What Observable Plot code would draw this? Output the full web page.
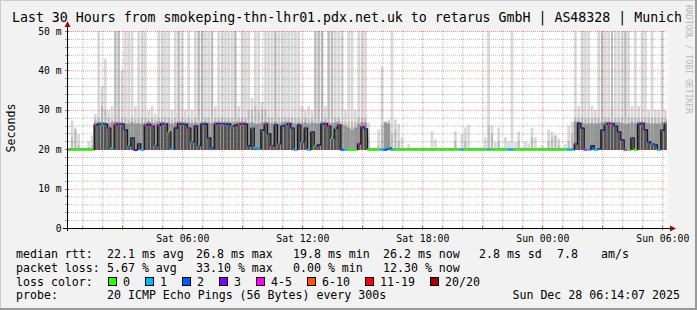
<!DOCTYPE html>
<html><head><meta charset="utf-8">
<script src="https://cdn.jsdelivr.net/npm/d3@7"></script>
<script src="https://cdn.jsdelivr.net/npm/@observablehq/plot@0.6"></script>
<style>
html,body{margin:0;padding:0;background:#f2f2f2;}
#chart{width:697px;height:310px;overflow:hidden;}
svg{display:block}
</style></head><body><div id="chart"></div>
<script>
// ---- data (10-minute bins, Sat 27 Dec 2025 00:14:07 -> Sun 28 Dec 06:14:07) ----
const startMs = Date.UTC(2025, 11, 27, 0, 14, 7);
const endMs = Date.UTC(2025, 11, 28, 6, 14, 7);
const binMinutes = 10;
const lowestPingMs = 19.8;

const medianMs = [
 20,20,20,20,20,20,20,20,26.3,26.5,26.6,26.5,25.5,20.4,26.4,26.5,26.5,25,21,23,19.9,21.5,20,26.2,26.4,26,21,26.2,26.6,26.5,
 24.5,20.2,25.5,26.6,26.5,26.4,25.5,22,26,21,26.5,26.5,23,20.5,26.6,26.6,26.6,26.5,26.5,26,26.2,26.5,26.6,26.5,21,25.5,20.5,20.3,25,26.5,
 24,21,26.3,21.5,26,26.4,26.6,25.5,20,26.2,22,25.5,20,24.5,21,21.2,26.5,26.6,26,23,25.5,26.2,20,20,20,20,20,21.5,25.8,25.3,
 20,20,20,20,20,20,20.5,20,20,20,20,20,20,20,20,20,20,20,20,20,20,20,20,20,20,20,20,20,20,20,
 20,20,20,20,20,20,20,20,20,20,20,20,20,20,20,20,20,20,20,20,20,20,20,20,20,20,20,20,20,20,
 20,20,21.5,26.7,25.5,20,20,21,20,20.2,25,26.5,26.7,26.6,26,24.5,22.5,20,20,23,20,26.5,26.7,25,22,21.5,21.2,20,25,26.5
];
const lossPings = [
 0,0,0,0,0,0,0,0,4,2,1,2,4,1,4,4,2,2,1,2,3,2,1,4,2,4,1,4,2,4,
 0,1,3,4,2,2,4,1,3,1,2,3,2,2,4,2,4,2,3,1,3,6,4,3,2,1,1,1,2,4,
 2,4,2,1,3,1,4,2,1,3,1,2,1,2,0,3,2,4,4,0,1,4,2,1,0,0,0,4,4,2,
 0,0,0,0,1,2,1,1,0,0,0,0,0,0,0,0,0,0,0,0,0,0,0,0,0,0,0,0,1,0,
 0,0,0,0,0,0,1,0,0,0,0,0,1,1,0,0,0,0,0,0,0,0,0,0,0,0,0,0,0,0,
 1,1,4,3,3,4,1,2,1,2,2,1,4,4,2,3,3,4,0,2,0,2,4,3,2,1,2,1,2,2
];
const smokeTop = [
 20.4,27.3,25.5,23.8,20.4,20.4,22,23.5,29,52,36,43,30,31,52,52,40,52,52,52,31,52,52,52,30,31,29,52,52,52,
 52,30,52,52,52,30,52,30,52,52,52,52,52,52,31,52,52,52,52,52,52,31,52,52,52,33,52,52,32,52,
 52,52,52,52,52,52,52,52,52,52,31,30,31,30,52,52,52,31,52,52,52,52,52,30,52,52,30,52,52,52,
 26.8,20.4,20.4,25,41,27,27.5,52,27.5,26.5,23,20.4,21.3,20.4,20.4,20.4,20.4,20.4,20.4,24.6,22.5,20.4,20.4,20.4,20.4,20.4,24.6,20.4,23.8,25.5,
 26.2,20.4,20.4,20.4,20.4,23,52,26,21.7,25.5,20.4,23,22,52,21.7,24.5,20.4,22,21.5,25.5,23,20.4,21,20.4,25,24.5,23.5,22.7,20.4,21.3,
 26,27,52,31,52,52,52,31,30,52,52,52,52,31,52,52,52,52,52,31,52,31,52,52,30,52,30,30,52,30
];
const smokeUpper = [
 20.3,23,25,21,20.3,20.3,20.5,21,27.5,28,31,30,28,27.5,52,52,28,28,27.5,28,27.5,28,28,28,27.5,28,27.5,28,28,28,
 28,27.5,28,52,28,27.5,28,27.5,28,52,52,28,28,52,28,28,28,28,28,28,52,28,28,28,30,30,31,30,30,30,
 28,28,52,28,28,28,28,28,28,28,27.5,28,27.5,28,52,52,52,28,52,52,28,28,27,27,27,27,27,28,28,28,
 23,20.3,20.3,21,26,27,27,24,25,22,20.3,20.3,20.3,20.3,20.3,20.3,20.3,20.3,20.3,20.3,20.3,20.3,20.3,20.3,20.3,20.3,22,20.3,20.3,22,
 20.3,20.3,20.3,20.3,20.3,20.3,26,24,20.3,22,20.3,20.3,20.3,20.3,20.3,22,20.3,20.3,20.3,23,20.3,20.3,20.3,20.3,22,23,23.5,21,20.3,20.3,
 22,24,28,28,28,28,28,28,28,28,52,28,28,52,28,28,28,52,28,28,28,28,28,28,28,28,28,28,28,28
];
const smokeBand = [
 20.3,20.3,20.3,20.3,20.3,20.3,20.3,20.3,26.8,27,27,26.8,26.5,26.8,27,27,26.8,26.6,26.5,26.8,26.5,26.6,26.5,26.8,27,26.8,26.6,27,27,26.8,
 26.8,26.5,26.8,27,27,26.8,26.8,26.6,26.8,26.5,27,27,26.8,26.6,27,27,27,27,27,26.8,27,27,27,27,26.6,26.8,26.5,26.5,26.8,27,
 26.8,26.6,27,26.6,26.8,27,27,26.8,26.5,26.8,26.6,26.8,26.5,26.8,26.6,26.6,27,27,26.8,26.6,26.8,27,26.3,26,25.5,25,25.5,26.5,26.8,26.8,
 20.3,20.3,20.3,20.3,20.3,26.8,26.5,20.3,20.3,20.3,20.3,20.3,20.3,20.3,20.3,20.3,20.3,20.3,20.3,20.3,20.3,20.3,20.3,20.3,20.3,20.3,20.3,20.3,20.3,20.3,
 20.3,20.3,20.3,20.3,20.3,20.3,20.3,20.3,20.3,20.3,20.3,20.3,20.3,20.3,20.3,20.3,20.3,20.3,20.3,20.3,20.3,20.3,20.3,20.3,20.3,20.3,20.3,20.3,20.3,20.3,
 20.3,20.3,27,27,26.8,26.5,26.5,26.6,26.5,26.6,26.8,27,27,27,26.8,26.8,26.6,26.5,26.5,26.8,26.6,27,27,26.8,26.6,26.5,26.6,26.5,26.8,27
];

const xTickTimes = ["2025-12-27T06:00:00Z","2025-12-27T12:00:00Z","2025-12-27T18:00:00Z","2025-12-28T00:00:00Z","2025-12-28T06:00:00Z"];
const xTickLabels = ["Sat 06:00","Sat 12:00","Sat 18:00","Sun 00:00","Sun 06:00"];
const yTickValues = [0,10,20,30,40,50];
const yTickLabels = ["0","10 m","20 m","30 m","40 m","50 m"];
const yMinorValues = [2,4,6,8,12,14,16,18,22,24,26,28,32,34,36,38,42,44,46,48];

const lossThresholds = [1,2,3,4,6,11,20];
const lossLabels = ["0","1","2","3","4-5","6-10","11-19","20/20"];
const lossColors = ["#26ff00","#00b8ff","#0059ff","#7e00ff","#ff00ff","#ff5500","#ff0000","#a10000"];

const titleText = "Last 30 Hours from smokeping-thn-lhr01.pdx.net.uk to retarus GmbH | AS48328 | Munich";
const medianStats = ["22.1 ms avg","26.8 ms max","19.8 ms min","26.2 ms now","2.8 ms sd","7.8","am/s"];
const lossStats = ["5.67 % avg","33.10 % max","0.00 % min","12.30 % now"];
const probeText = "20 ICMP Echo Pings (56 Bytes) every 300s";
const stampText = "Sun Dec 28 06:14:07 2025";

// ---- build rows ----
const rows = medianMs.map((m, i) => ({
  t0: new Date(startMs + i * binMinutes * 60000),
  t1: new Date(startMs + (i + 1) * binMinutes * 60000),
  med: m, loss: lossPings[i], top: smokeTop[i], upper: smokeUpper[i], band: smokeBand[i], low: lowestPingMs
}));
const x0 = new Date(startMs), x1 = new Date(endMs);
const hours = d3.utcHour.range(x0, x1);
const majorHours = hours.filter(d => d.getUTCHours() % 3 === 0);
const minorHours = hours.filter(d => d.getUTCHours() % 3 !== 0);
const FONT = "DejaVu Sans Mono";

const plot = Plot.plot({
  width: 697, height: 310,
  marginLeft: 67, marginRight: 30, marginTop: 31, marginBottom: 82,
  style: {background: "transparent", fontFamily: FONT, color: "#000"},
  x: {type: "utc", domain: [x0, x1], axis: null},
  y: {domain: [0, 50], axis: null},
  color: {type: "threshold", domain: lossThresholds, range: lossColors},
  marks: [
    Plot.frame({fill: "#ffffff", stroke: null}),
    Plot.rect(rows, {x1: "t0", x2: "t1", y1: "low", y2: "top", fill: "#d9d9d9", insetLeft: 0.3, insetRight: 0.3, clip: true}),
    Plot.rect(rows, {x1: "t0", x2: "t1", y1: "low", y2: "upper", fill: "#bcbcbc", insetLeft: 0.7, insetRight: 0.7, clip: true}),
    Plot.rect(rows, {x1: "t0", x2: "t1", y1: "low", y2: "band", fill: "#969696", clip: true}),
    Plot.rect(rows, {x1: "t0", x2: "t1", y1: "low", y2: "med", fill: "#525252", insetLeft: 0.4, insetRight: 0.4, clip: true}),
    Plot.ruleY(yMinorValues, {stroke: "rgba(130,130,130,0.55)", strokeDasharray: "1,1"}),
    Plot.ruleX(minorHours, {stroke: "rgba(130,130,130,0.55)", strokeDasharray: "1,1"}),
    Plot.ruleY(yTickValues.filter(v => v > 0), {stroke: "rgba(215,50,50,0.5)", strokeDasharray: "1,1"}),
    Plot.ruleX(majorHours, {stroke: "rgba(215,50,50,0.5)", strokeDasharray: "1,1"}),
    Plot.line(rows, {x: "t0", y: "med", curve: "step-after", stroke: "#151515", strokeWidth: 1.3}),
    Plot.ruleY(rows, {filter: d => d.med < 20.6, x1: "t0", x2: "t1", y: "med", stroke: "loss", strokeWidth: 2}),
    Plot.ruleY(rows, {filter: d => d.med >= 20.6, x1: "t0", x2: "t1", y: "med", stroke: "loss", strokeWidth: 2, insetLeft: 0.7, insetRight: 0.9}),
    Plot.text(yTickValues, {x: () => x0, y: d => d, text: (d, i) => yTickLabels[i], textAnchor: "end", dx: -6, fontSize: 9.7, fill: "#000"}),
    Plot.text(xTickTimes, {x: d => new Date(d), y: () => 0, text: (d, i) => xTickLabels[i], dy: 10, fontSize: 9.8, fill: "#000"})
  ]
});
document.getElementById("chart").appendChild(plot);

// ---- decorations: axes, title, legend ----
const svg = d3.select(plot);
const xs = plot.scale("x"), ys = plot.scale("y");
const yb = ys.apply(0), yt = ys.apply(50), xl = xs.apply(x0), xr = xs.apply(x1);

// border (3D look)
svg.insert("rect", ":first-child").attr("x", 0).attr("y", 0).attr("width", 697).attr("height", 310).attr("fill", "#f2f2f2");
svg.append("line").attr("x1", 0.5).attr("y1", 0).attr("x2", 0.5).attr("y2", 310).attr("stroke", "#cbcbcb").attr("stroke-width", 1);
svg.append("line").attr("x1", 0).attr("y1", 0.5).attr("x2", 697).attr("y2", 0.5).attr("stroke", "#cbcbcb").attr("stroke-width", 1);
svg.append("line").attr("x1", 696).attr("y1", 0).attr("x2", 696).attr("y2", 310).attr("stroke", "#999").attr("stroke-width", 2);
svg.append("line").attr("x1", 0).attr("y1", 309).attr("x2", 697).attr("y2", 309).attr("stroke", "#999").attr("stroke-width", 2);

// axis ticks
const ax = svg.append("g");
hours.forEach(h => {
  const x = Math.round(xs.apply(h)) + 0.5;
  const major = h.getUTCHours() % 3 === 0;
  ax.append("line").attr("x1", x).attr("x2", x).attr("y1", yb - 2).attr("y2", yb + 2)
    .attr("stroke", major ? "rgba(200,40,40,0.8)" : "rgba(120,120,120,0.7)");
});
yMinorValues.concat(yTickValues).forEach(v => {
  const y = Math.round(ys.apply(v)) + 0.5;
  const major = v % 10 === 0;
  ax.append("line").attr("x1", xl - 2).attr("x2", xl + 2).attr("y1", y).attr("y2", y)
    .attr("stroke", major ? "rgba(200,40,40,0.8)" : "rgba(120,120,120,0.7)");
});
// axis lines + arrows
const axX = Math.round(xl) + 0.5, axY = Math.round(yb) + 0.5;
ax.append("line").attr("x1", axX).attr("x2", axX).attr("y1", yb + 3).attr("y2", yt - 5).attr("stroke", "#000");
ax.append("line").attr("x1", xl - 4).attr("x2", xr + 4).attr("y1", axY).attr("y2", axY).attr("stroke", "#000");
ax.append("path").attr("d", `M${axX - 3},${yt - 4} L${axX + 3},${yt - 4} L${axX},${yt - 10} Z`).attr("fill", "#8b1010");
ax.append("path").attr("d", `M${xr + 3},${axY - 3} L${xr + 3},${axY + 3} L${xr + 9},${axY} Z`).attr("fill", "#8b1010");

const txt = (x, y, s, size, extra = {}) => {
  const t = svg.append("text").attr("x", x).attr("y", y).text(s)
    .attr("font-family", FONT).attr("font-size", size).attr("fill", extra.fill || "#000")
    .attr("text-anchor", extra.anchor || "start")
    .attr("xml:space", "preserve").style("white-space", "pre");
  if (extra.transform) t.attr("transform", extra.transform);
  return t;
};
// title
txt(347, 21.5, titleText, 13.25, {anchor: "middle"});
// watermark
txt(0, 0, "RRDTOOL / TOBI OETIKER", 8.2, {fill: "#b8b8b8", transform: "translate(686,5) rotate(90)"});
// y label
txt(0, 0, "Seconds", 11.6, {anchor: "middle", transform: "translate(15,128) rotate(-90)"});

// legend rows
const statX = [107, 196, 293, 383, 479, 557, 601];
txt(16, 258, "median rtt:", 11.6);
medianStats.forEach((s, i) => txt(statX[i], 258, s, 11.6));
txt(16, 271.5, "packet loss:", 11.6);
lossStats.forEach((s, i) => txt(statX[i], 271.5, s, 11.6));
txt(16, 285.5, "loss color:", 11.6);
let bx = 108;
lossLabels.forEach((lab, i) => {
  svg.append("rect").attr("x", bx + 0.5).attr("y", 277.5).attr("width", 8).attr("height", 8)
    .attr("fill", lossColors[i]).attr("stroke", "#000").attr("stroke-width", 1);
  txt(bx + 15, 285.5, lab, 11.6);
  bx += 30 + 7 * lab.length;
});
txt(16, 299, "probe:", 11.6);
txt(107, 299, probeText, 11.6);
txt(680, 299, stampText, 11.6, {anchor: "end"});
</script>
</body></html>
